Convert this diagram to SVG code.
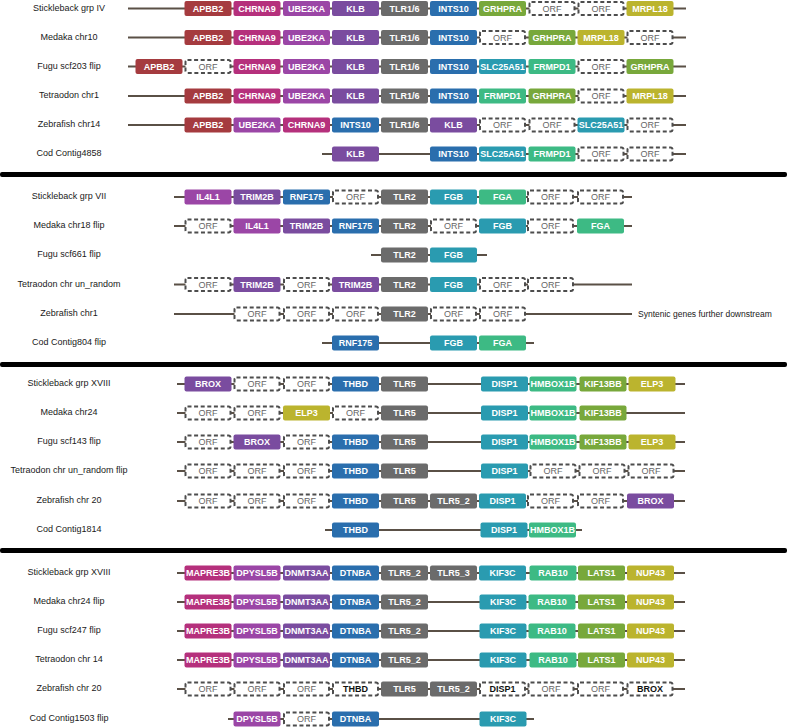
<svg xmlns="http://www.w3.org/2000/svg" width="787" height="727" viewBox="0 0 787 727">
<style>
.lbl{font-family:"Liberation Sans",Arial,sans-serif;font-size:9px;fill:#1a1a1a;text-anchor:middle}
.note{font-family:"Liberation Sans",Arial,sans-serif;font-size:8.5px;fill:#1a1a1a}
.t{font-family:"Liberation Sans",Arial,sans-serif;font-size:9px;font-weight:bold;fill:#fff;text-anchor:middle}
.tk{font-family:"Liberation Sans",Arial,sans-serif;font-size:9px;font-weight:bold;fill:#111;text-anchor:middle}
.o{font-family:"Liberation Sans",Arial,sans-serif;font-size:9px;fill:#666;text-anchor:middle}
rect{rx:2px;ry:2px}
.orf{fill:#fff;stroke:#4d4d4d;stroke-width:2;stroke-dasharray:4 2.6}
.red{fill:#a53b3f}.mag{fill:#b5307c}.pu1{fill:#9b46a6}.pu2{fill:#7a4c9f}.gry{fill:#6b6b6b}
.blu{fill:#2a6ead}.grn{fill:#78a83b}.yel{fill:#bbb42e}.tea{fill:#2a9bb0}.mnt{fill:#3dba84}
.bar{fill:#000}
#connectors line{stroke:#5a5046;stroke-width:2}
</style>
<rect class="bar" x="0" y="172" width="787" height="5" rx="0"/>
<rect class="bar" x="0" y="362" width="787" height="5" rx="0"/>
<rect class="bar" x="0" y="548" width="787" height="5" rx="0"/>
<g id="labels">
<text class="lbl" x="69" y="10.5">Stickleback grp IV</text>
<text class="lbl" x="69" y="39.5">Medaka chr10</text>
<text class="lbl" x="69" y="68.5">Fugu scf203 flip</text>
<text class="lbl" x="69" y="98">Tetraodon chr1</text>
<text class="lbl" x="69" y="127">Zebrafish chr14</text>
<text class="lbl" x="69" y="156">Cod Contig4858</text>
<text class="lbl" x="69" y="199">Stickleback grp VII</text>
<text class="lbl" x="69" y="228">Medaka chr18 flip</text>
<text class="lbl" x="69" y="257">Fugu scf661 flip</text>
<text class="lbl" x="69" y="286.5">Tetraodon chr un_random</text>
<text class="lbl" x="69" y="316">Zebrafish chr1</text>
<text class="lbl" x="69" y="345">Cod Contig804 flip</text>
<text class="lbl" x="69" y="386">Stickleback grp XVIII</text>
<text class="lbl" x="69" y="415">Medaka chr24</text>
<text class="lbl" x="69" y="444">Fugu scf143 flip</text>
<text class="lbl" x="69" y="473">Tetraodon chr un_random flip</text>
<text class="lbl" x="69" y="503">Zebrafish chr 20</text>
<text class="lbl" x="69" y="532">Cod Contig1814</text>
<text class="lbl" x="69" y="575">Stickleback grp XVIII</text>
<text class="lbl" x="69" y="604">Medaka chr24 flip</text>
<text class="lbl" x="69" y="633">Fugu scf247 flip</text>
<text class="lbl" x="69" y="662">Tetraodon chr 14</text>
<text class="lbl" x="69" y="691">Zebrafish chr 20</text>
<text class="lbl" x="69" y="721">Cod Contig1503 flip</text>
<text class="note" x="638" y="317">Syntenic genes further downstream</text>
</g>
<g id="connectors">
<line x1="128" y1="8.5" x2="686" y2="8.5"/>
<line x1="128" y1="37.5" x2="686" y2="37.5"/>
<line x1="128" y1="66.5" x2="686" y2="66.5"/>
<line x1="128" y1="96" x2="686" y2="96"/>
<line x1="128" y1="125" x2="686" y2="125"/>
<line x1="322" y1="154" x2="686" y2="154"/>
<line x1="174" y1="197" x2="632" y2="197"/>
<line x1="174" y1="226" x2="632" y2="226"/>
<line x1="371" y1="255" x2="487" y2="255"/>
<line x1="174" y1="284.5" x2="632" y2="284.5"/>
<line x1="174" y1="314" x2="632" y2="314"/>
<line x1="322" y1="343" x2="534" y2="343"/>
<line x1="177" y1="384" x2="685" y2="384"/>
<line x1="177" y1="413" x2="685" y2="413"/>
<line x1="177" y1="442" x2="685" y2="442"/>
<line x1="177" y1="471" x2="685" y2="471"/>
<line x1="177" y1="501" x2="685" y2="501"/>
<line x1="325" y1="530" x2="582" y2="530"/>
<line x1="177" y1="573" x2="685" y2="573"/>
<line x1="177" y1="602" x2="685" y2="602"/>
<line x1="177" y1="631" x2="685" y2="631"/>
<line x1="177" y1="660" x2="685" y2="660"/>
<line x1="177" y1="689" x2="685" y2="689"/>
<line x1="228" y1="719" x2="534" y2="719"/>
</g>
<!-- Section 1 -->
<g id="s1r1-APBB2" transform="translate(184.5,1)"><rect class="red" width="47" height="15"/><text class="t" x="23.5" y="10.8">APBB2</text></g>
<g id="s1r1-CHRNA9" transform="translate(233.5,1)"><rect class="mag" width="47" height="15"/><text class="t" x="23.5" y="10.8">CHRNA9</text></g>
<g id="s1r1-UBE2KA" transform="translate(283,1)"><rect class="pu1" width="47" height="15"/><text class="t" x="23.5" y="10.8">UBE2KA</text></g>
<g id="s1r1-KLB" transform="translate(332,1)"><rect class="pu2" width="47" height="15"/><text class="t" x="23.5" y="10.8">KLB</text></g>
<g id="s1r1-TLR16" transform="translate(381,1)"><rect class="gry" width="47" height="15"/><text class="t" x="23.5" y="10.8">TLR1/6</text></g>
<g id="s1r1-INTS10" transform="translate(430,1)"><rect class="blu" width="47" height="15"/><text class="t" x="23.5" y="10.8">INTS10</text></g>
<g id="s1r1-GRHPRA" transform="translate(479,1)"><rect class="grn" width="47" height="15"/><text class="t" x="23.5" y="10.8">GRHPRA</text></g>
<g id="s1r1-ORF8" transform="translate(528.5,1)"><rect class="orf" x="1" y="1" width="45" height="13"/><text class="o" x="23.5" y="10.8">ORF</text></g>
<g id="s1r1-ORF9" transform="translate(577.5,1)"><rect class="orf" x="1" y="1" width="45" height="13"/><text class="o" x="23.5" y="10.8">ORF</text></g>
<g id="s1r1-MRPL18" transform="translate(626.5,1)"><rect class="yel" width="47" height="15"/><text class="t" x="23.5" y="10.8">MRPL18</text></g>

<g id="s1r2-APBB2" transform="translate(184.5,30)"><rect class="red" width="47" height="15"/><text class="t" x="23.5" y="10.8">APBB2</text></g>
<g id="s1r2-CHRNA9" transform="translate(233.5,30)"><rect class="mag" width="47" height="15"/><text class="t" x="23.5" y="10.8">CHRNA9</text></g>
<g id="s1r2-UBE2KA" transform="translate(283,30)"><rect class="pu1" width="47" height="15"/><text class="t" x="23.5" y="10.8">UBE2KA</text></g>
<g id="s1r2-KLB" transform="translate(332,30)"><rect class="pu2" width="47" height="15"/><text class="t" x="23.5" y="10.8">KLB</text></g>
<g id="s1r2-TLR16" transform="translate(381,30)"><rect class="gry" width="47" height="15"/><text class="t" x="23.5" y="10.8">TLR1/6</text></g>
<g id="s1r2-INTS10" transform="translate(430,30)"><rect class="blu" width="47" height="15"/><text class="t" x="23.5" y="10.8">INTS10</text></g>
<g id="s1r2-ORF7" transform="translate(479,30)"><rect class="orf" x="1" y="1" width="45" height="13"/><text class="o" x="23.5" y="10.8">ORF</text></g>
<g id="s1r2-GRHPRA" transform="translate(528.5,30)"><rect class="grn" width="47" height="15"/><text class="t" x="23.5" y="10.8">GRHPRA</text></g>
<g id="s1r2-MRPL18" transform="translate(577.5,30)"><rect class="yel" width="47" height="15"/><text class="t" x="23.5" y="10.8">MRPL18</text></g>
<g id="s1r2-ORF10" transform="translate(626.5,30)"><rect class="orf" x="1" y="1" width="45" height="13"/><text class="o" x="23.5" y="10.8">ORF</text></g>

<g id="s1r3-APBB2" transform="translate(135.5,59)"><rect class="red" width="47" height="15"/><text class="t" x="23.5" y="10.8">APBB2</text></g>
<g id="s1r3-ORF1" transform="translate(184.5,59)"><rect class="orf" x="1" y="1" width="45" height="13"/><text class="o" x="23.5" y="10.8">ORF</text></g>
<g id="s1r3-CHRNA9" transform="translate(233.5,59)"><rect class="mag" width="47" height="15"/><text class="t" x="23.5" y="10.8">CHRNA9</text></g>
<g id="s1r3-UBE2KA" transform="translate(283,59)"><rect class="pu1" width="47" height="15"/><text class="t" x="23.5" y="10.8">UBE2KA</text></g>
<g id="s1r3-KLB" transform="translate(332,59)"><rect class="pu2" width="47" height="15"/><text class="t" x="23.5" y="10.8">KLB</text></g>
<g id="s1r3-TLR16" transform="translate(381,59)"><rect class="gry" width="47" height="15"/><text class="t" x="23.5" y="10.8">TLR1/6</text></g>
<g id="s1r3-INTS10" transform="translate(430,59)"><rect class="blu" width="47" height="15"/><text class="t" x="23.5" y="10.8">INTS10</text></g>
<g id="s1r3-SLC25A51" transform="translate(479,59)"><rect class="tea" width="47" height="15"/><text class="t" x="23.5" y="10.8">SLC25A51</text></g>
<g id="s1r3-FRMPD1" transform="translate(528.5,59)"><rect class="mnt" width="47" height="15"/><text class="t" x="23.5" y="10.8">FRMPD1</text></g>
<g id="s1r3-ORF9" transform="translate(577.5,59)"><rect class="orf" x="1" y="1" width="45" height="13"/><text class="o" x="23.5" y="10.8">ORF</text></g>
<g id="s1r3-GRHPRA" transform="translate(626.5,59)"><rect class="grn" width="47" height="15"/><text class="t" x="23.5" y="10.8">GRHPRA</text></g>

<g id="s1r4-APBB2" transform="translate(184.5,88.5)"><rect class="red" width="47" height="15"/><text class="t" x="23.5" y="10.8">APBB2</text></g>
<g id="s1r4-CHRNA9" transform="translate(233.5,88.5)"><rect class="mag" width="47" height="15"/><text class="t" x="23.5" y="10.8">CHRNA9</text></g>
<g id="s1r4-UBE2KA" transform="translate(283,88.5)"><rect class="pu1" width="47" height="15"/><text class="t" x="23.5" y="10.8">UBE2KA</text></g>
<g id="s1r4-KLB" transform="translate(332,88.5)"><rect class="pu2" width="47" height="15"/><text class="t" x="23.5" y="10.8">KLB</text></g>
<g id="s1r4-TLR16" transform="translate(381,88.5)"><rect class="gry" width="47" height="15"/><text class="t" x="23.5" y="10.8">TLR1/6</text></g>
<g id="s1r4-INTS10" transform="translate(430,88.5)"><rect class="blu" width="47" height="15"/><text class="t" x="23.5" y="10.8">INTS10</text></g>
<g id="s1r4-FRMPD1" transform="translate(479,88.5)"><rect class="mnt" width="47" height="15"/><text class="t" x="23.5" y="10.8">FRMPD1</text></g>
<g id="s1r4-GRHPRA" transform="translate(528.5,88.5)"><rect class="grn" width="47" height="15"/><text class="t" x="23.5" y="10.8">GRHPRA</text></g>
<g id="s1r4-ORF9" transform="translate(577.5,88.5)"><rect class="orf" x="1" y="1" width="45" height="13"/><text class="o" x="23.5" y="10.8">ORF</text></g>
<g id="s1r4-MRPL18" transform="translate(626.5,88.5)"><rect class="yel" width="47" height="15"/><text class="t" x="23.5" y="10.8">MRPL18</text></g>

<g id="s1r5-APBB2" transform="translate(184.5,117.5)"><rect class="red" width="47" height="15"/><text class="t" x="23.5" y="10.8">APBB2</text></g>
<g id="s1r5-UBE2KA" transform="translate(233.5,117.5)"><rect class="pu1" width="47" height="15"/><text class="t" x="23.5" y="10.8">UBE2KA</text></g>
<g id="s1r5-CHRNA9" transform="translate(283,117.5)"><rect class="mag" width="47" height="15"/><text class="t" x="23.5" y="10.8">CHRNA9</text></g>
<g id="s1r5-INTS10" transform="translate(332,117.5)"><rect class="blu" width="47" height="15"/><text class="t" x="23.5" y="10.8">INTS10</text></g>
<g id="s1r5-TLR16" transform="translate(381,117.5)"><rect class="gry" width="47" height="15"/><text class="t" x="23.5" y="10.8">TLR1/6</text></g>
<g id="s1r5-KLB" transform="translate(430,117.5)"><rect class="pu2" width="47" height="15"/><text class="t" x="23.5" y="10.8">KLB</text></g>
<g id="s1r5-ORF7" transform="translate(479,117.5)"><rect class="orf" x="1" y="1" width="45" height="13"/><text class="o" x="23.5" y="10.8">ORF</text></g>
<g id="s1r5-ORF8" transform="translate(528.5,117.5)"><rect class="orf" x="1" y="1" width="45" height="13"/><text class="o" x="23.5" y="10.8">ORF</text></g>
<g id="s1r5-SLC25A51" transform="translate(577.5,117.5)"><rect class="tea" width="47" height="15"/><text class="t" x="23.5" y="10.8">SLC25A51</text></g>
<g id="s1r5-ORF10" transform="translate(626.5,117.5)"><rect class="orf" x="1" y="1" width="45" height="13"/><text class="o" x="23.5" y="10.8">ORF</text></g>

<g id="s1r6-KLB" transform="translate(332,146.5)"><rect class="pu2" width="47" height="15"/><text class="t" x="23.5" y="10.8">KLB</text></g>
<g id="s1r6-INTS10" transform="translate(430,146.5)"><rect class="blu" width="47" height="15"/><text class="t" x="23.5" y="10.8">INTS10</text></g>
<g id="s1r6-SLC25A51" transform="translate(479,146.5)"><rect class="tea" width="47" height="15"/><text class="t" x="23.5" y="10.8">SLC25A51</text></g>
<g id="s1r6-FRMPD1" transform="translate(528.5,146.5)"><rect class="mnt" width="47" height="15"/><text class="t" x="23.5" y="10.8">FRMPD1</text></g>
<g id="s1r6-ORF9" transform="translate(577.5,146.5)"><rect class="orf" x="1" y="1" width="45" height="13"/><text class="o" x="23.5" y="10.8">ORF</text></g>
<g id="s1r6-ORF10" transform="translate(626.5,146.5)"><rect class="orf" x="1" y="1" width="45" height="13"/><text class="o" x="23.5" y="10.8">ORF</text></g>
<!-- Section 2 -->
<g id="s2r1-IL4L1" transform="translate(184.5,189.5)"><rect class="pu1" width="47" height="15"/><text class="t" x="23.5" y="10.8">IL4L1</text></g>
<g id="s2r1-TRIM2B" transform="translate(233.5,189.5)"><rect class="pu2" width="47" height="15"/><text class="t" x="23.5" y="10.8">TRIM2B</text></g>
<g id="s2r1-RNF175" transform="translate(283,189.5)"><rect class="blu" width="47" height="15"/><text class="t" x="23.5" y="10.8">RNF175</text></g>
<g id="s2r1-ORF4" transform="translate(332,189.5)"><rect class="orf" x="1" y="1" width="45" height="13"/><text class="o" x="23.5" y="10.8">ORF</text></g>
<g id="s2r1-TLR2" transform="translate(381,189.5)"><rect class="gry" width="47" height="15"/><text class="t" x="23.5" y="10.8">TLR2</text></g>
<g id="s2r1-FGB" transform="translate(430,189.5)"><rect class="tea" width="47" height="15"/><text class="t" x="23.5" y="10.8">FGB</text></g>
<g id="s2r1-FGA" transform="translate(479,189.5)"><rect class="mnt" width="47" height="15"/><text class="t" x="23.5" y="10.8">FGA</text></g>
<g id="s2r1-ORF8" transform="translate(527,189.5)"><rect class="orf" x="1" y="1" width="45" height="13"/><text class="o" x="23.5" y="10.8">ORF</text></g>
<g id="s2r1-ORF9" transform="translate(577,189.5)"><rect class="orf" x="1" y="1" width="45" height="13"/><text class="o" x="23.5" y="10.8">ORF</text></g>

<g id="s2r2-ORF1" transform="translate(184.5,218.5)"><rect class="orf" x="1" y="1" width="45" height="13"/><text class="o" x="23.5" y="10.8">ORF</text></g>
<g id="s2r2-IL4L1" transform="translate(233.5,218.5)"><rect class="pu1" width="47" height="15"/><text class="t" x="23.5" y="10.8">IL4L1</text></g>
<g id="s2r2-TRIM2B" transform="translate(283,218.5)"><rect class="pu2" width="47" height="15"/><text class="t" x="23.5" y="10.8">TRIM2B</text></g>
<g id="s2r2-RNF175" transform="translate(332,218.5)"><rect class="blu" width="47" height="15"/><text class="t" x="23.5" y="10.8">RNF175</text></g>
<g id="s2r2-TLR2" transform="translate(381,218.5)"><rect class="gry" width="47" height="15"/><text class="t" x="23.5" y="10.8">TLR2</text></g>
<g id="s2r2-ORF6" transform="translate(430,218.5)"><rect class="orf" x="1" y="1" width="45" height="13"/><text class="o" x="23.5" y="10.8">ORF</text></g>
<g id="s2r2-FGB" transform="translate(479,218.5)"><rect class="tea" width="47" height="15"/><text class="t" x="23.5" y="10.8">FGB</text></g>
<g id="s2r2-ORF8" transform="translate(527,218.5)"><rect class="orf" x="1" y="1" width="45" height="13"/><text class="o" x="23.5" y="10.8">ORF</text></g>
<g id="s2r2-FGA" transform="translate(577,218.5)"><rect class="mnt" width="47" height="15"/><text class="t" x="23.5" y="10.8">FGA</text></g>

<g id="s2r3-TLR2" transform="translate(381,247.5)"><rect class="gry" width="47" height="15"/><text class="t" x="23.5" y="10.8">TLR2</text></g>
<g id="s2r3-FGB" transform="translate(430,247.5)"><rect class="tea" width="47" height="15"/><text class="t" x="23.5" y="10.8">FGB</text></g>

<g id="s2r4-ORF1" transform="translate(184.5,277)"><rect class="orf" x="1" y="1" width="45" height="13"/><text class="o" x="23.5" y="10.8">ORF</text></g>
<g id="s2r4-TRIM2B-a" transform="translate(233.5,277)"><rect class="pu2" width="47" height="15"/><text class="t" x="23.5" y="10.8">TRIM2B</text></g>
<g id="s2r4-ORF3" transform="translate(283,277)"><rect class="orf" x="1" y="1" width="45" height="13"/><text class="o" x="23.5" y="10.8">ORF</text></g>
<g id="s2r4-TRIM2B-b" transform="translate(332,277)"><rect class="pu2" width="47" height="15"/><text class="t" x="23.5" y="10.8">TRIM2B</text></g>
<g id="s2r4-TLR2" transform="translate(381,277)"><rect class="gry" width="47" height="15"/><text class="t" x="23.5" y="10.8">TLR2</text></g>
<g id="s2r4-FGB" transform="translate(430,277)"><rect class="tea" width="47" height="15"/><text class="t" x="23.5" y="10.8">FGB</text></g>
<g id="s2r4-ORF7" transform="translate(479,277)"><rect class="orf" x="1" y="1" width="45" height="13"/><text class="o" x="23.5" y="10.8">ORF</text></g>
<g id="s2r4-ORF8" transform="translate(527,277)"><rect class="orf" x="1" y="1" width="45" height="13"/><text class="o" x="23.5" y="10.8">ORF</text></g>

<g id="s2r5-ORF2" transform="translate(233.5,306.5)"><rect class="orf" x="1" y="1" width="45" height="13"/><text class="o" x="23.5" y="10.8">ORF</text></g>
<g id="s2r5-ORF3" transform="translate(283,306.5)"><rect class="orf" x="1" y="1" width="45" height="13"/><text class="o" x="23.5" y="10.8">ORF</text></g>
<g id="s2r5-ORF4" transform="translate(332,306.5)"><rect class="orf" x="1" y="1" width="45" height="13"/><text class="o" x="23.5" y="10.8">ORF</text></g>
<g id="s2r5-TLR2" transform="translate(381,306.5)"><rect class="gry" width="47" height="15"/><text class="t" x="23.5" y="10.8">TLR2</text></g>
<g id="s2r5-ORF6" transform="translate(430,306.5)"><rect class="orf" x="1" y="1" width="45" height="13"/><text class="o" x="23.5" y="10.8">ORF</text></g>
<g id="s2r5-ORF7" transform="translate(479,306.5)"><rect class="orf" x="1" y="1" width="45" height="13"/><text class="o" x="23.5" y="10.8">ORF</text></g>

<g id="s2r6-RNF175" transform="translate(332,335.5)"><rect class="blu" width="47" height="15"/><text class="t" x="23.5" y="10.8">RNF175</text></g>
<g id="s2r6-FGB" transform="translate(430,335.5)"><rect class="tea" width="47" height="15"/><text class="t" x="23.5" y="10.8">FGB</text></g>
<g id="s2r6-FGA" transform="translate(479,335.5)"><rect class="mnt" width="47" height="15"/><text class="t" x="23.5" y="10.8">FGA</text></g>
<!-- Section 3 -->
<g id="s3r1-BROX" transform="translate(184.5,376.5)"><rect class="pu2" width="47" height="15"/><text class="t" x="23.5" y="10.8">BROX</text></g>
<g id="s3r1-ORF2" transform="translate(233.5,376.5)"><rect class="orf" x="1" y="1" width="45" height="13"/><text class="o" x="23.5" y="10.8">ORF</text></g>
<g id="s3r1-ORF3" transform="translate(283,376.5)"><rect class="orf" x="1" y="1" width="45" height="13"/><text class="o" x="23.5" y="10.8">ORF</text></g>
<g id="s3r1-THBD" transform="translate(332,376.5)"><rect class="blu" width="47" height="15"/><text class="t" x="23.5" y="10.8">THBD</text></g>
<g id="s3r1-TLR5" transform="translate(381,376.5)"><rect class="gry" width="47" height="15"/><text class="t" x="23.5" y="10.8">TLR5</text></g>
<g id="s3r1-DISP1" transform="translate(481,376.5)"><rect class="tea" width="47" height="15"/><text class="t" x="23.5" y="10.8">DISP1</text></g>
<g id="s3r1-HMBOX1B" transform="translate(529.5,376.5)"><rect class="mnt" width="47" height="15"/><text class="t" x="23.5" y="10.8">HMBOX1B</text></g>
<g id="s3r1-KIF13BB" transform="translate(579.5,376.5)"><rect class="grn" width="47" height="15"/><text class="t" x="23.5" y="10.8">KIF13BB</text></g>
<g id="s3r1-ELP3" transform="translate(628.5,376.5)"><rect class="yel" width="47" height="15"/><text class="t" x="23.5" y="10.8">ELP3</text></g>

<g id="s3r2-ORF1" transform="translate(184.5,405.5)"><rect class="orf" x="1" y="1" width="45" height="13"/><text class="o" x="23.5" y="10.8">ORF</text></g>
<g id="s3r2-ORF2" transform="translate(233.5,405.5)"><rect class="orf" x="1" y="1" width="45" height="13"/><text class="o" x="23.5" y="10.8">ORF</text></g>
<g id="s3r2-ELP3" transform="translate(283,405.5)"><rect class="yel" width="47" height="15"/><text class="t" x="23.5" y="10.8">ELP3</text></g>
<g id="s3r2-ORF4" transform="translate(332,405.5)"><rect class="orf" x="1" y="1" width="45" height="13"/><text class="o" x="23.5" y="10.8">ORF</text></g>
<g id="s3r2-TLR5" transform="translate(381,405.5)"><rect class="gry" width="47" height="15"/><text class="t" x="23.5" y="10.8">TLR5</text></g>
<g id="s3r2-DISP1" transform="translate(481,405.5)"><rect class="tea" width="47" height="15"/><text class="t" x="23.5" y="10.8">DISP1</text></g>
<g id="s3r2-HMBOX1B" transform="translate(529.5,405.5)"><rect class="mnt" width="47" height="15"/><text class="t" x="23.5" y="10.8">HMBOX1B</text></g>
<g id="s3r2-KIF13BB" transform="translate(579.5,405.5)"><rect class="grn" width="47" height="15"/><text class="t" x="23.5" y="10.8">KIF13BB</text></g>

<g id="s3r3-ORF1" transform="translate(184.5,434.5)"><rect class="orf" x="1" y="1" width="45" height="13"/><text class="o" x="23.5" y="10.8">ORF</text></g>
<g id="s3r3-BROX" transform="translate(233.5,434.5)"><rect class="pu2" width="47" height="15"/><text class="t" x="23.5" y="10.8">BROX</text></g>
<g id="s3r3-ORF3" transform="translate(283,434.5)"><rect class="orf" x="1" y="1" width="45" height="13"/><text class="o" x="23.5" y="10.8">ORF</text></g>
<g id="s3r3-THBD" transform="translate(332,434.5)"><rect class="blu" width="47" height="15"/><text class="t" x="23.5" y="10.8">THBD</text></g>
<g id="s3r3-TLR5" transform="translate(381,434.5)"><rect class="gry" width="47" height="15"/><text class="t" x="23.5" y="10.8">TLR5</text></g>
<g id="s3r3-DISP1" transform="translate(481,434.5)"><rect class="tea" width="47" height="15"/><text class="t" x="23.5" y="10.8">DISP1</text></g>
<g id="s3r3-HMBOX1B" transform="translate(529.5,434.5)"><rect class="mnt" width="47" height="15"/><text class="t" x="23.5" y="10.8">HMBOX1B</text></g>
<g id="s3r3-KIF13BB" transform="translate(579.5,434.5)"><rect class="grn" width="47" height="15"/><text class="t" x="23.5" y="10.8">KIF13BB</text></g>
<g id="s3r3-ELP3" transform="translate(628.5,434.5)"><rect class="yel" width="47" height="15"/><text class="t" x="23.5" y="10.8">ELP3</text></g>

<g id="s3r4-ORF1" transform="translate(184.5,463.5)"><rect class="orf" x="1" y="1" width="45" height="13"/><text class="o" x="23.5" y="10.8">ORF</text></g>
<g id="s3r4-ORF2" transform="translate(233.5,463.5)"><rect class="orf" x="1" y="1" width="45" height="13"/><text class="o" x="23.5" y="10.8">ORF</text></g>
<g id="s3r4-ORF3" transform="translate(283,463.5)"><rect class="orf" x="1" y="1" width="45" height="13"/><text class="o" x="23.5" y="10.8">ORF</text></g>
<g id="s3r4-THBD" transform="translate(332,463.5)"><rect class="blu" width="47" height="15"/><text class="t" x="23.5" y="10.8">THBD</text></g>
<g id="s3r4-TLR5" transform="translate(381,463.5)"><rect class="gry" width="47" height="15"/><text class="t" x="23.5" y="10.8">TLR5</text></g>
<g id="s3r4-DISP1" transform="translate(481,463.5)"><rect class="tea" width="47" height="15"/><text class="t" x="23.5" y="10.8">DISP1</text></g>
<g id="s3r4-ORF8" transform="translate(529.5,463.5)"><rect class="orf" x="1" y="1" width="45" height="13"/><text class="o" x="23.5" y="10.8">ORF</text></g>
<g id="s3r4-ORF9" transform="translate(578.5,463.5)"><rect class="orf" x="1" y="1" width="45" height="13"/><text class="o" x="23.5" y="10.8">ORF</text></g>
<g id="s3r4-ORF10" transform="translate(627.5,463.5)"><rect class="orf" x="1" y="1" width="45" height="13"/><text class="o" x="23.5" y="10.8">ORF</text></g>

<g id="s3r5-ORF1" transform="translate(184.5,493.5)"><rect class="orf" x="1" y="1" width="45" height="13"/><text class="o" x="23.5" y="10.8">ORF</text></g>
<g id="s3r5-ORF2" transform="translate(233.5,493.5)"><rect class="orf" x="1" y="1" width="45" height="13"/><text class="o" x="23.5" y="10.8">ORF</text></g>
<g id="s3r5-ORF3" transform="translate(283,493.5)"><rect class="orf" x="1" y="1" width="45" height="13"/><text class="o" x="23.5" y="10.8">ORF</text></g>
<g id="s3r5-THBD" transform="translate(332,493.5)"><rect class="blu" width="47" height="15"/><text class="t" x="23.5" y="10.8">THBD</text></g>
<g id="s3r5-TLR5" transform="translate(381,493.5)"><rect class="gry" width="47" height="15"/><text class="t" x="23.5" y="10.8">TLR5</text></g>
<g id="s3r5-TLR5_2" transform="translate(430,493.5)"><rect class="gry" width="47" height="15"/><text class="t" x="23.5" y="10.8">TLR5_2</text></g>
<g id="s3r5-DISP1" transform="translate(479,493.5)"><rect class="tea" width="47" height="15"/><text class="t" x="23.5" y="10.8">DISP1</text></g>
<g id="s3r5-ORF8" transform="translate(527,493.5)"><rect class="orf" x="1" y="1" width="45" height="13"/><text class="o" x="23.5" y="10.8">ORF</text></g>
<g id="s3r5-ORF9" transform="translate(577,493.5)"><rect class="orf" x="1" y="1" width="45" height="13"/><text class="o" x="23.5" y="10.8">ORF</text></g>
<g id="s3r5-BROX" transform="translate(627,493.5)"><rect class="pu2" width="47" height="15"/><text class="t" x="23.5" y="10.8">BROX</text></g>

<g id="s3r6-THBD" transform="translate(332,522.5)"><rect class="blu" width="47" height="15"/><text class="t" x="23.5" y="10.8">THBD</text></g>
<g id="s3r6-DISP1" transform="translate(480.5,522.5)"><rect class="tea" width="47" height="15"/><text class="t" x="23.5" y="10.8">DISP1</text></g>
<g id="s3r6-HMBOX1B" transform="translate(529,522.5)"><rect class="mnt" width="47" height="15"/><text class="t" x="23.5" y="10.8">HMBOX1B</text></g>
<!-- Section 4 -->
<g id="s4r1-MAPRE3B" transform="translate(184.5,565.5)"><rect class="mag" width="47" height="15"/><text class="t" x="23.5" y="10.8">MAPRE3B</text></g>
<g id="s4r1-DPYSL5B" transform="translate(233.5,565.5)"><rect class="pu1" width="47" height="15"/><text class="t" x="23.5" y="10.8">DPYSL5B</text></g>
<g id="s4r1-DNMT3AA" transform="translate(283,565.5)"><rect class="pu2" width="47" height="15"/><text class="t" x="23.5" y="10.8">DNMT3AA</text></g>
<g id="s4r1-DTNBA" transform="translate(332,565.5)"><rect class="blu" width="47" height="15"/><text class="t" x="23.5" y="10.8">DTNBA</text></g>
<g id="s4r1-TLR5_2" transform="translate(381,565.5)"><rect class="gry" width="47" height="15"/><text class="t" x="23.5" y="10.8">TLR5_2</text></g>
<g id="s4r1-TLR5_3" transform="translate(430,565.5)"><rect class="gry" width="47" height="15"/><text class="t" x="23.5" y="10.8">TLR5_3</text></g>
<g id="s4r1-KIF3C" transform="translate(479,565.5)"><rect class="tea" width="47" height="15"/><text class="t" x="23.5" y="10.8">KIF3C</text></g>
<g id="s4r1-RAB10" transform="translate(529.5,565.5)"><rect class="mnt" width="47" height="15"/><text class="t" x="23.5" y="10.8">RAB10</text></g>
<g id="s4r1-LATS1" transform="translate(578,565.5)"><rect class="grn" width="47" height="15"/><text class="t" x="23.5" y="10.8">LATS1</text></g>
<g id="s4r1-NUP43" transform="translate(627,565.5)"><rect class="yel" width="47" height="15"/><text class="t" x="23.5" y="10.8">NUP43</text></g>

<g id="s4r2-MAPRE3B" transform="translate(184.5,594.5)"><rect class="mag" width="47" height="15"/><text class="t" x="23.5" y="10.8">MAPRE3B</text></g>
<g id="s4r2-DPYSL5B" transform="translate(233.5,594.5)"><rect class="pu1" width="47" height="15"/><text class="t" x="23.5" y="10.8">DPYSL5B</text></g>
<g id="s4r2-DNMT3AA" transform="translate(283,594.5)"><rect class="pu2" width="47" height="15"/><text class="t" x="23.5" y="10.8">DNMT3AA</text></g>
<g id="s4r2-DTNBA" transform="translate(332,594.5)"><rect class="blu" width="47" height="15"/><text class="t" x="23.5" y="10.8">DTNBA</text></g>
<g id="s4r2-TLR5_2" transform="translate(381,594.5)"><rect class="gry" width="47" height="15"/><text class="t" x="23.5" y="10.8">TLR5_2</text></g>
<g id="s4r2-KIF3C" transform="translate(479.5,594.5)"><rect class="tea" width="47" height="15"/><text class="t" x="23.5" y="10.8">KIF3C</text></g>
<g id="s4r2-RAB10" transform="translate(528.5,594.5)"><rect class="mnt" width="47" height="15"/><text class="t" x="23.5" y="10.8">RAB10</text></g>
<g id="s4r2-LATS1" transform="translate(578,594.5)"><rect class="grn" width="47" height="15"/><text class="t" x="23.5" y="10.8">LATS1</text></g>
<g id="s4r2-NUP43" transform="translate(627,594.5)"><rect class="yel" width="47" height="15"/><text class="t" x="23.5" y="10.8">NUP43</text></g>

<g id="s4r3-MAPRE3B" transform="translate(184.5,623.5)"><rect class="mag" width="47" height="15"/><text class="t" x="23.5" y="10.8">MAPRE3B</text></g>
<g id="s4r3-DPYSL5B" transform="translate(233.5,623.5)"><rect class="pu1" width="47" height="15"/><text class="t" x="23.5" y="10.8">DPYSL5B</text></g>
<g id="s4r3-DNMT3AA" transform="translate(283,623.5)"><rect class="pu2" width="47" height="15"/><text class="t" x="23.5" y="10.8">DNMT3AA</text></g>
<g id="s4r3-DTNBA" transform="translate(332,623.5)"><rect class="blu" width="47" height="15"/><text class="t" x="23.5" y="10.8">DTNBA</text></g>
<g id="s4r3-TLR5_2" transform="translate(381,623.5)"><rect class="gry" width="47" height="15"/><text class="t" x="23.5" y="10.8">TLR5_2</text></g>
<g id="s4r3-KIF3C" transform="translate(479.5,623.5)"><rect class="tea" width="47" height="15"/><text class="t" x="23.5" y="10.8">KIF3C</text></g>
<g id="s4r3-RAB10" transform="translate(528.5,623.5)"><rect class="mnt" width="47" height="15"/><text class="t" x="23.5" y="10.8">RAB10</text></g>
<g id="s4r3-LATS1" transform="translate(578,623.5)"><rect class="grn" width="47" height="15"/><text class="t" x="23.5" y="10.8">LATS1</text></g>
<g id="s4r3-NUP43" transform="translate(627,623.5)"><rect class="yel" width="47" height="15"/><text class="t" x="23.5" y="10.8">NUP43</text></g>

<g id="s4r4-MAPRE3B" transform="translate(184.5,652.5)"><rect class="mag" width="47" height="15"/><text class="t" x="23.5" y="10.8">MAPRE3B</text></g>
<g id="s4r4-DPYSL5B" transform="translate(233.5,652.5)"><rect class="pu1" width="47" height="15"/><text class="t" x="23.5" y="10.8">DPYSL5B</text></g>
<g id="s4r4-DNMT3AA" transform="translate(283,652.5)"><rect class="pu2" width="47" height="15"/><text class="t" x="23.5" y="10.8">DNMT3AA</text></g>
<g id="s4r4-DTNBA" transform="translate(332,652.5)"><rect class="blu" width="47" height="15"/><text class="t" x="23.5" y="10.8">DTNBA</text></g>
<g id="s4r4-TLR5_2" transform="translate(381,652.5)"><rect class="gry" width="47" height="15"/><text class="t" x="23.5" y="10.8">TLR5_2</text></g>
<g id="s4r4-KIF3C" transform="translate(479.5,652.5)"><rect class="tea" width="47" height="15"/><text class="t" x="23.5" y="10.8">KIF3C</text></g>
<g id="s4r4-RAB10" transform="translate(529.5,652.5)"><rect class="mnt" width="47" height="15"/><text class="t" x="23.5" y="10.8">RAB10</text></g>
<g id="s4r4-LATS1" transform="translate(578,652.5)"><rect class="grn" width="47" height="15"/><text class="t" x="23.5" y="10.8">LATS1</text></g>
<g id="s4r4-NUP43" transform="translate(627,652.5)"><rect class="yel" width="47" height="15"/><text class="t" x="23.5" y="10.8">NUP43</text></g>

<g id="s4r5-ORF1" transform="translate(184.5,681.5)"><rect class="orf" x="1" y="1" width="45" height="13"/><text class="o" x="23.5" y="10.8">ORF</text></g>
<g id="s4r5-ORF2" transform="translate(233.5,681.5)"><rect class="orf" x="1" y="1" width="45" height="13"/><text class="o" x="23.5" y="10.8">ORF</text></g>
<g id="s4r5-ORF3" transform="translate(283,681.5)"><rect class="orf" x="1" y="1" width="45" height="13"/><text class="o" x="23.5" y="10.8">ORF</text></g>
<g id="s4r5-THBD" transform="translate(332,681.5)"><rect class="orf" x="1" y="1" width="45" height="13"/><text class="tk" x="23.5" y="10.8">THBD</text></g>
<g id="s4r5-TLR5" transform="translate(381,681.5)"><rect class="gry" width="47" height="15"/><text class="t" x="23.5" y="10.8">TLR5</text></g>
<g id="s4r5-TLR5_2" transform="translate(430,681.5)"><rect class="gry" width="47" height="15"/><text class="t" x="23.5" y="10.8">TLR5_2</text></g>
<g id="s4r5-DISP1" transform="translate(479,681.5)"><rect class="orf" x="1" y="1" width="45" height="13"/><text class="tk" x="23.5" y="10.8">DISP1</text></g>
<g id="s4r5-ORF8" transform="translate(527.5,681.5)"><rect class="orf" x="1" y="1" width="45" height="13"/><text class="o" x="23.5" y="10.8">ORF</text></g>
<g id="s4r5-ORF9" transform="translate(577,681.5)"><rect class="orf" x="1" y="1" width="45" height="13"/><text class="o" x="23.5" y="10.8">ORF</text></g>
<g id="s4r5-BROX" transform="translate(626.5,681.5)"><rect class="orf" x="1" y="1" width="45" height="13"/><text class="tk" x="23.5" y="10.8">BROX</text></g>

<g id="s4r6-DPYSL5B" transform="translate(233.5,711.5)"><rect class="pu1" width="47" height="15"/><text class="t" x="23.5" y="10.8">DPYSL5B</text></g>
<g id="s4r6-ORF3" transform="translate(283,711.5)"><rect class="orf" x="1" y="1" width="45" height="13"/><text class="o" x="23.5" y="10.8">ORF</text></g>
<g id="s4r6-DTNBA" transform="translate(332,711.5)"><rect class="blu" width="47" height="15"/><text class="t" x="23.5" y="10.8">DTNBA</text></g>
<g id="s4r6-KIF3C" transform="translate(479.5,711.5)"><rect class="tea" width="47" height="15"/><text class="t" x="23.5" y="10.8">KIF3C</text></g>
</svg>
